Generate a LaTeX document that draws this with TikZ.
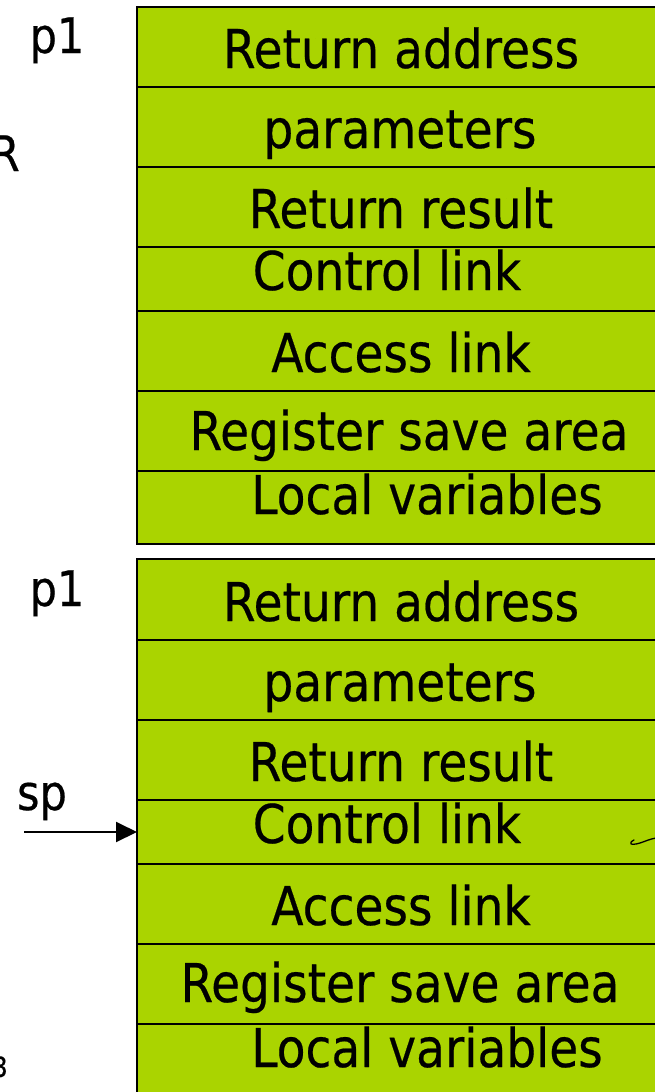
\documentclass[tikz,border=0pt]{standalone}
\usepackage{fontspec}
\setmainfont{DejaVu Sans}[FakeStretch=0.88, FakeBold=0.4]
\usetikzlibrary{arrows.meta}
\definecolor{framegreen}{HTML}{AAD400}
\tikzset{
  slot/.style={draw=black, line width=2.2pt, fill=framegreen, inner sep=0pt,
    anchor=north west, minimum width=533pt, outer sep=0pt},
  slottext/.style={anchor=base, inner sep=0pt, font=\fontsize{53.5}{60}\selectfont},
  sidelabel/.style={inner sep=0pt, font=\fontsize{49}{56}\selectfont},
}
\begin{document}
\begin{tikzpicture}[x=1pt, y=-1pt]
\useasboundingbox (0,0) rectangle (655,1092);
\clip (0,0) rectangle (655,1092);

% upper activation record
\node[slot, minimum height=80pt] (a1) at (137,7) {};
\node[slot, minimum height=80pt] (a2) at (137,87) {};
\node[slot, minimum height=80pt] (a3) at (137,167) {};
\node[slot, minimum height=64pt] (a4) at (137,247) {};
\node[slot, minimum height=80pt] (a5) at (137,311) {};
\node[slot, minimum height=80pt] (a6) at (137,391) {};
\node[slot, minimum height=73pt] (a7) at (137,471) {};

\node[slottext] (ta1) at (401,68) {Return address};
\node[slottext] (ta2) at (400,148) {parameters};
\node[slottext] (ta3) at (401,228) {Return result};
\node[slottext] (ta4) at (387,290) {Control link};
\node[slottext] (ta5) at (401,372) {Access link};
\node[slottext] (ta6) at (409,450) {Register save area};
\node[slottext] (ta7) at (427,514) {Local variables};

% lower activation record
\node[slot, minimum height=81pt] (b1) at (137,559) {};
\node[slot, minimum height=80pt] (b2) at (137,640) {};
\node[slot, minimum height=80pt] (b3) at (137,720) {};
\node[slot, minimum height=64pt] (b4) at (137,800) {};
\node[slot, minimum height=80pt] (b5) at (137,864) {};
\node[slot, minimum height=80pt] (b6) at (137,944) {};
\node[slot, minimum height=90pt] (b7) at (137,1024) {};

\node[slottext] (tb1) at (401,621) {Return address};
\node[slottext] (tb2) at (400,701) {parameters};
\node[slottext] (tb3) at (401,781) {Return result};
\node[slottext] (tb4) at (387,843) {Control link};
\node[slottext] (tb5) at (401,925) {Access link};
\node[slottext] (tb6) at (400,1002) {Register save area};
\node[slottext] (tb7) at (427,1067) {Local variables};

% labels on the left
\node[sidelabel, anchor=base] (p1a) at (57,53) {p1};
\node[sidelabel, anchor=base] (p1b) at (57,606) {p1};
\node[sidelabel, anchor=base east] (rl) at (20,171) {R};
\node[sidelabel, anchor=base] (spl) at (42,810) {sp};
\node[inner sep=0pt, anchor=base east, font=\fontsize{28}{32}\selectfont] (pg) at (8,1077) {3};

% stack pointer
\coordinate (spstart) at (24,832);
\draw[line width=2pt, -{Triangle[length=21pt, width=20pt]}] (spstart) -- (spstart -| b4.west);

% pen stroke on the right
\draw[line width=1.3pt, line cap=round] (634,840) .. controls (628,843) and (630,846) .. (640,843) .. controls (646,841) and (650,839) .. (656,838);
\end{tikzpicture}
\end{document}
